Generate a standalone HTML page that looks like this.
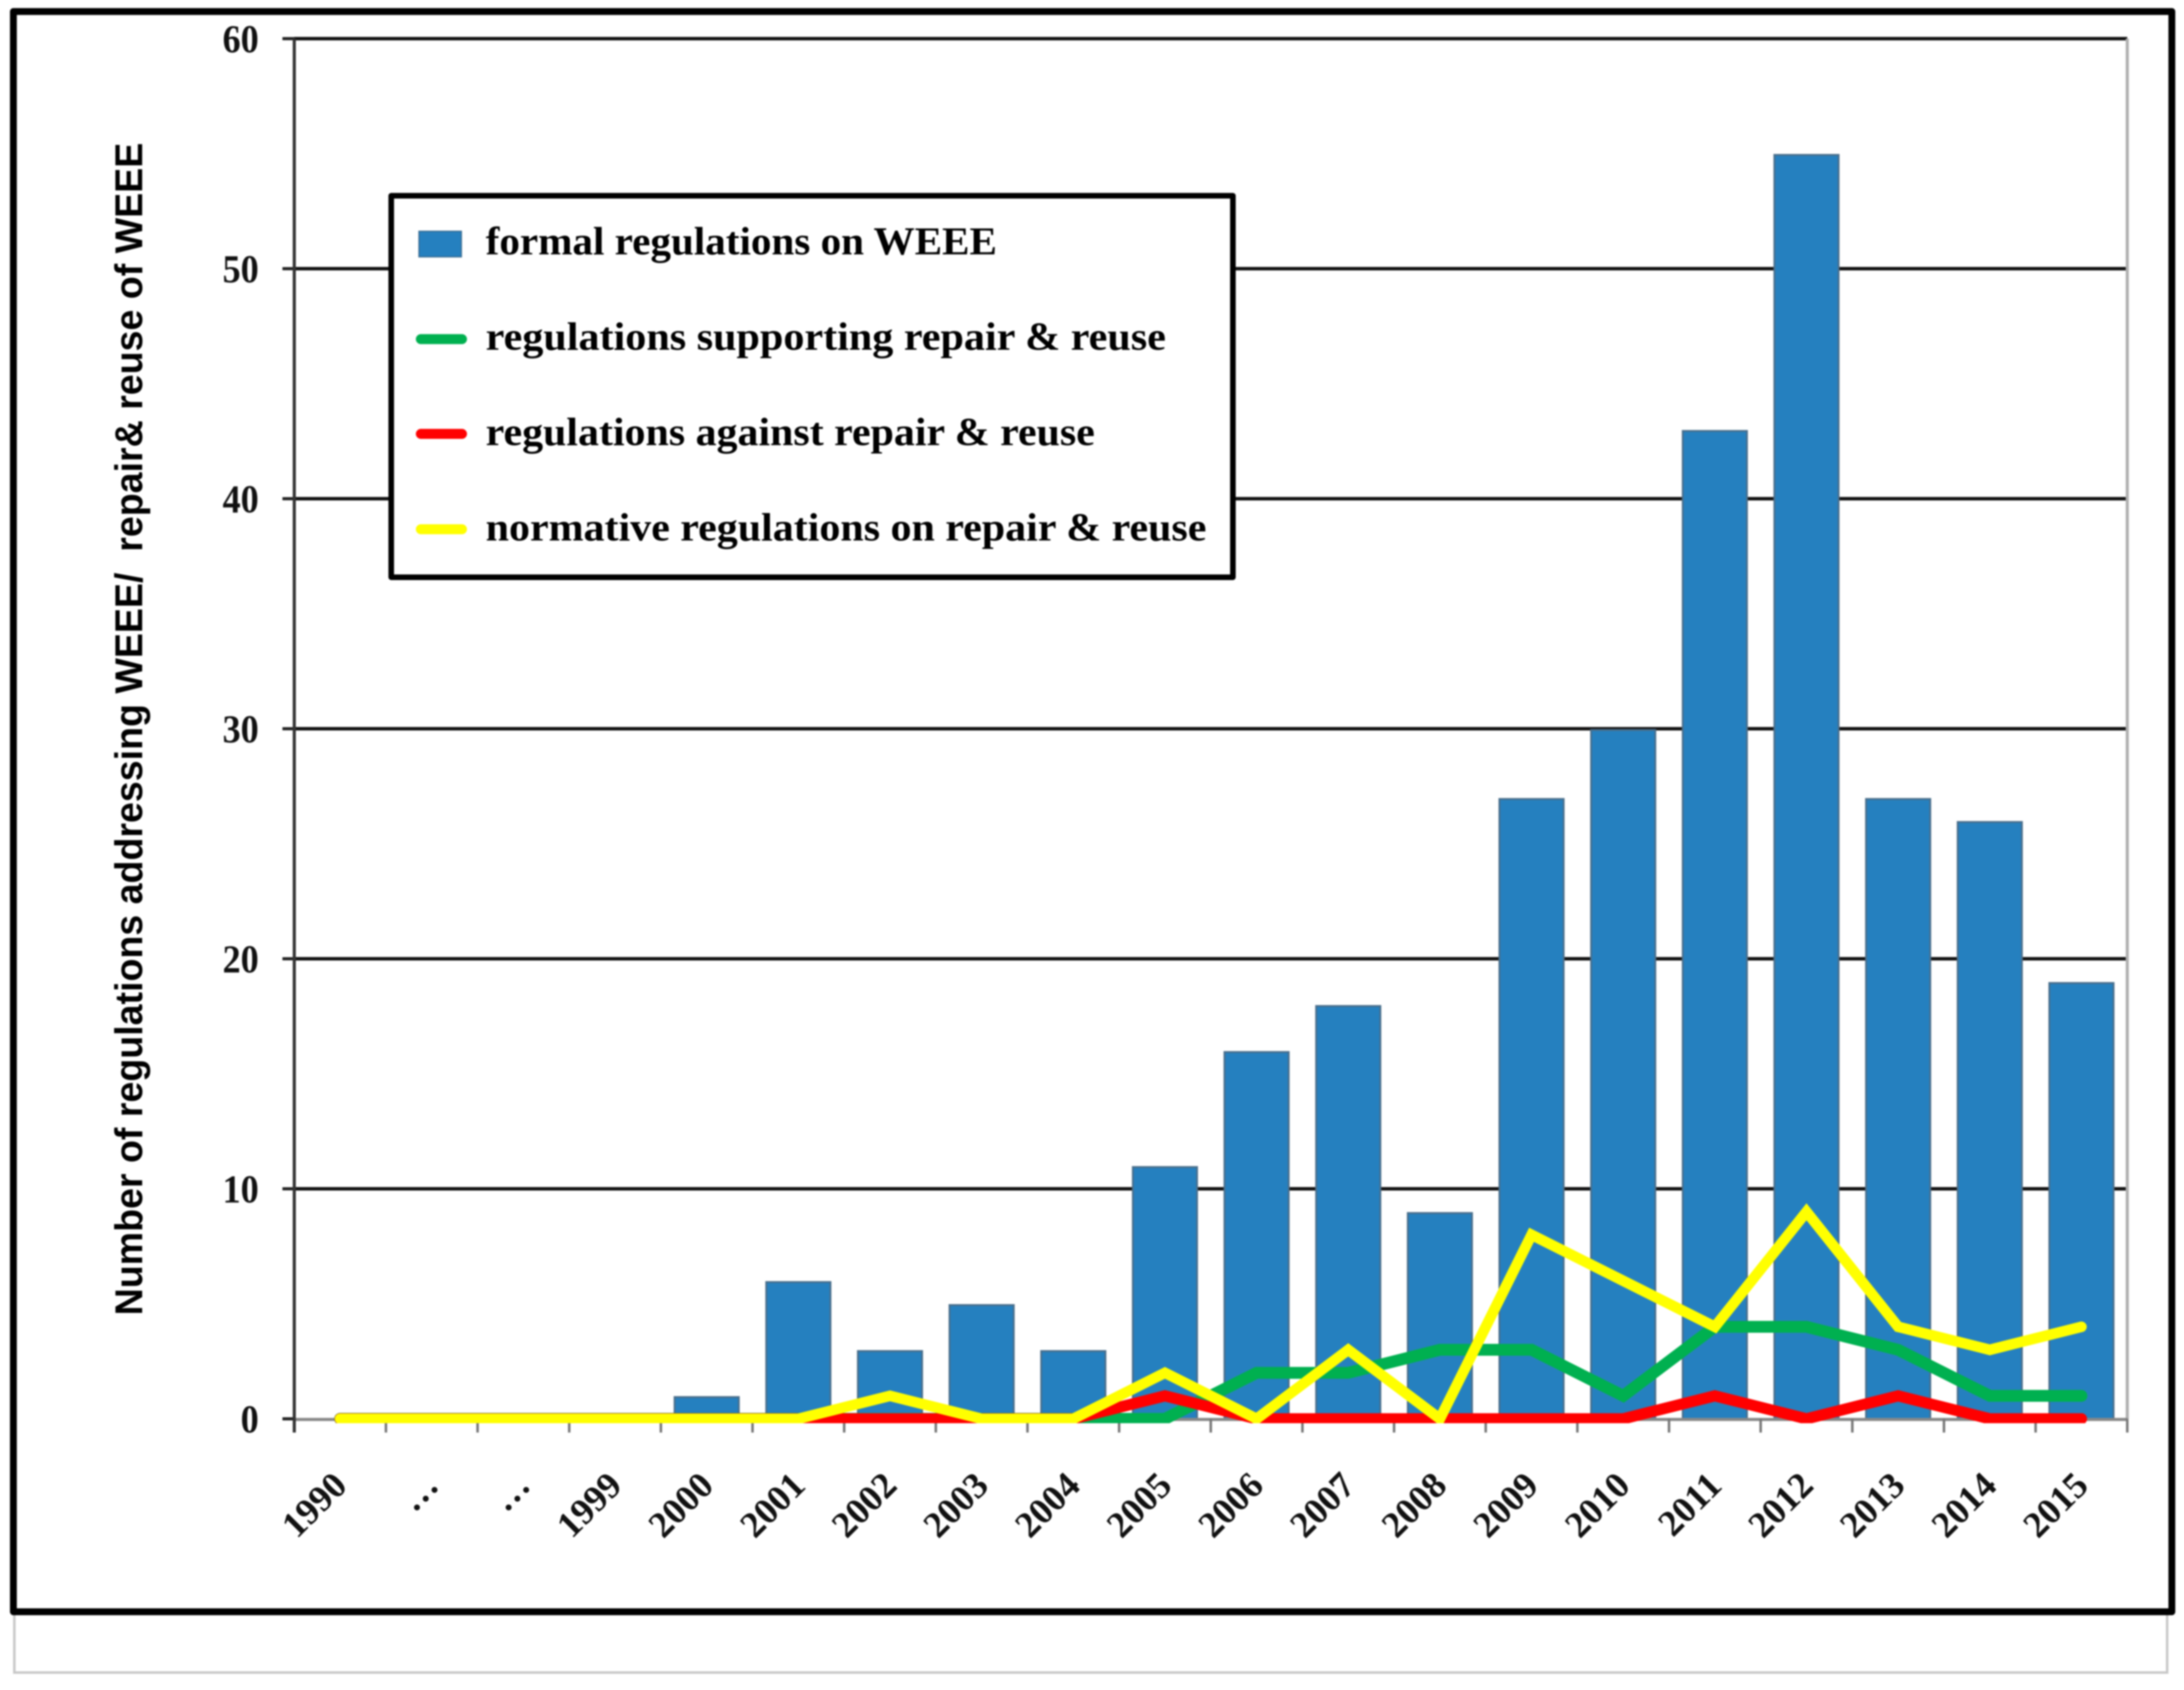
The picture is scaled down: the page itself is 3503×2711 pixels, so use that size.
<!DOCTYPE html>
<html lang="en">
<head>
<meta charset="utf-8">
<title>Regulations addressing WEEE and repair and reuse of WEEE</title>
<style>
html,body{margin:0;padding:0;background:#fff;}
svg{display:block;filter:blur(1.2px);}
text{white-space:pre;}
</style>
</head>
<body>
<svg id="chart" xmlns="http://www.w3.org/2000/svg" width="3503" height="2711" viewBox="0 0 3503 2711">
  <defs>
    <clipPath id="line-clip"><rect x="400" y="0" width="3100" height="2283"/></clipPath>
  </defs>
  <rect x="0" y="0" width="3503" height="2711" fill="#ffffff"/>
  <path d="M23 2591 V2683 H3476 V2591" fill="none" stroke="#c8c8c8" stroke-width="4"/>
  <rect x="21.5" y="18.5" width="3462" height="2567" fill="#ffffff" stroke="#000000" stroke-width="11" stroke-linejoin="round"/>
  <g id="grid-layer"></g>
  <g id="bar-layer"></g>
  <g id="axis-layer"></g>
  <g id="line-layer" clip-path="url(#line-clip)"></g>
  <g id="label-layer"></g>
  <text transform="translate(228,2110) rotate(-90)" font-family="'Liberation Sans',sans-serif" font-weight="700" font-size="62" fill="#000" textLength="1881" lengthAdjust="spacingAndGlyphs" xml:space="preserve">Number of regulations addressing WEEE/  repair&amp; reuse of WEEE</text>
  <g>
    <rect x="627.5" y="314" width="1350" height="612" fill="#ffffff" stroke="#000000" stroke-width="9" stroke-linejoin="round"/>
    <rect x="672" y="371" width="68" height="41" fill="#2580bf" stroke="#3d6f95" stroke-width="2"/>
    <line x1="675" y1="544" x2="741" y2="544" stroke="#00b050" stroke-width="16" stroke-linecap="round"/>
    <line x1="675" y1="696" x2="741" y2="696" stroke="#ff0000" stroke-width="16" stroke-linecap="round"/>
    <line x1="675" y1="849" x2="741" y2="849" stroke="#ffff00" stroke-width="16" stroke-linecap="round"/>
    <g font-family="'Liberation Serif',serif" font-weight="700" font-size="64" fill="#000">
      <text x="779" y="408" textLength="820" lengthAdjust="spacingAndGlyphs">formal regulations on WEEE</text>
      <text x="779" y="561" textLength="1091" lengthAdjust="spacingAndGlyphs">regulations supporting repair &amp; reuse</text>
      <text x="779" y="714" textLength="977" lengthAdjust="spacingAndGlyphs">regulations against repair &amp; reuse</text>
      <text x="779" y="867" textLength="1156" lengthAdjust="spacingAndGlyphs">normative regulations on repair &amp; reuse</text>
    </g>
  </g>
</svg>
<script>
const categories = ["1990","…","…","1999","2000","2001","2002","2003","2004","2005","2006","2007","2008","2009","2010","2011","2012","2013","2014","2015"];
const yTicks = [0,10,20,30,40,50,60];
const formalRegulations = [0,0,0,0,1,6,3,5,3,11,16,18,9,27,30,43,55,27,26,19];
const supportingRegulations = [0,0,0,0,0,0,0,0,0,0,2,2,3,3,1,4,4,3,1,1];
const againstRegulations = [0,0,0,0,0,0,0,0,0,1,0,0,0,0,0,1,0,1,0,0];
const normativeRegulations = [0,0,0,0,0,0,1,0,0,2,0,3,0,8,6,4,9,4,3,4];

const SVG_NS = 'http://www.w3.org/2000/svg';
const plotLeft = 472, plotRight = 3412, plotTop = 62, plotBottom = 2276, yMax = 60;
const step = (plotRight - plotLeft) / categories.length;
function xCenter(i){ return plotLeft + (i + 0.5) * step; }
function xEdge(i){ return plotLeft + i * step; }
function yScale(v){ return plotBottom - (v / yMax) * (plotBottom - plotTop); }
function make(tag, parent, attrs){
  const el = document.createElementNS(SVG_NS, tag);
  for (const k in attrs) el.setAttribute(k, attrs[k]);
  parent.appendChild(el);
  return el;
}
const gridLayer = document.getElementById('grid-layer');
const barLayer = document.getElementById('bar-layer');
const axisLayer = document.getElementById('axis-layer');
const lineLayer = document.getElementById('line-layer');
const labelLayer = document.getElementById('label-layer');

yTicks.forEach(function(t){
  if (t > 0) {
    const grid = make('line', gridLayer, {x1: plotLeft, x2: plotRight, y1: yScale(t), y2: yScale(t), stroke: '#111111', 'stroke-width': 5.5});
    
    
  }
  const tick = make('line', axisLayer, {x1: plotLeft - 19, x2: plotLeft, y1: yScale(t), y2: yScale(t), stroke: '#222222', 'stroke-width': 5});
  
  
  const label = make('text', labelLayer, {x: 415, y: yScale(t) + 22, 'text-anchor': 'end', 'font-family': "'Liberation Serif',serif", 'font-size': 64, 'font-weight': 700, fill: '#111', textLength: t === 0 ? 29 : 58, lengthAdjust: 'spacingAndGlyphs'});
  label.textContent = String(t);
  
  
});

const rightEdge = make('line', gridLayer, {x1: plotRight, x2: plotRight, y1: plotTop, y2: plotBottom, stroke: '#b0b0b0', 'stroke-width': 5});



const barWidth = 103;
formalRegulations.forEach(function(v, i){
  const bar = make('rect', barLayer, {x: xCenter(i) - barWidth / 2, y: yScale(v) + 2, width: barWidth, height: Math.max(0, plotBottom - yScale(v) - 2), fill: '#2580bf', stroke: '#4a6f8c', 'stroke-width': 3});
  
  
});

const xAxis = make('line', axisLayer, {x1: plotLeft, x2: plotRight, y1: plotBottom + 1, y2: plotBottom + 1, stroke: '#888888', 'stroke-width': 5});


const yAxis = make('line', axisLayer, {x1: plotLeft, x2: plotLeft, y1: plotTop, y2: plotBottom + 22, stroke: '#333333', 'stroke-width': 5});


for (let i = 1; i <= categories.length; i++) {
  const xt = make('line', axisLayer, {x1: xEdge(i), x2: xEdge(i), y1: plotBottom, y2: plotBottom + 22, stroke: '#777777', 'stroke-width': 4});
  
  
}

function drawLine(values, color, width, name){
  const pts = values.map(function(v, i){ return xCenter(i) + ',' + yScale(v); }).join(' ');
  const line = make('polyline', lineLayer, {points: pts, fill: 'none', stroke: color, 'stroke-width': width, 'stroke-linecap': 'round', 'stroke-linejoin': 'miter', 'stroke-miterlimit': 6});
  
  
}
drawLine(supportingRegulations, '#00b050', 19, 'line-supporting');
drawLine(againstRegulations, '#ff0000', 18, 'line-against');
drawLine(normativeRegulations, '#ffff00', 17, 'line-normative');

categories.forEach(function(c, i){
  const ax = xCenter(i) + 14, ay = 2386;
  const label = make('text', labelLayer, {x: ax, y: ay, 'text-anchor': 'end', transform: 'rotate(-45 ' + ax + ' ' + ay + ')', 'font-family': "'Liberation Serif',serif", 'font-weight': 700, 'font-size': 59, fill: '#111'});
  label.textContent = c;
  
  
});
</script>
</body>
</html>
